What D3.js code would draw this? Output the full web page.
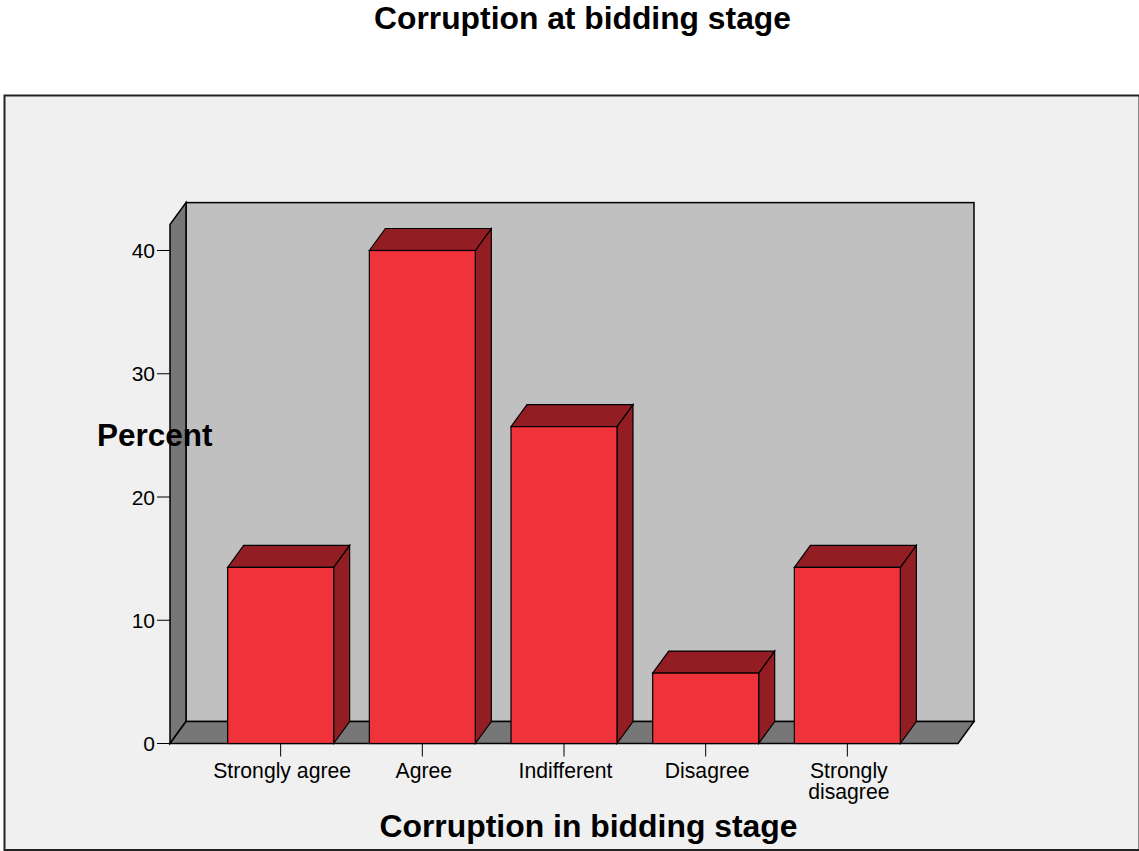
<!DOCTYPE html>
<html>
<head>
<meta charset="utf-8">
<script src="https://cdn.jsdelivr.net/npm/d3@7"></script>
<style>
  body { margin: 0; background: #fff; }
  text { font-family: Arial, 'Liberation Sans', sans-serif; }
</style>
</head>
<body>
<div id="chart"></div>
<script>
const categories = ['Strongly agree', 'Agree', 'Indifferent', 'Disagree', 'Strongly disagree'];
const tickLabels = [['Strongly agree'], ['Agree'], ['Indifferent'], ['Disagree'], ['Strongly', 'disagree']];
const percents = [14.29, 40.0, 25.71, 5.71, 14.29];
const yTicks = [0, 10, 20, 30, 40];

const width = 1139,
  height = 851;

// 3d offsets of the box
const depthX = 16,
  depthY = 22;

const floorY = 743.5;
const left = 170,
  right = 958;

const front = '#f0323a',
  dark = '#921e23',
  wall = '#c0c0c0',
  floor = '#777777';

let svg = d3
  .select('#chart')
  .append('svg')
  .attr('width', width)
  .attr('height', height);

// outer frame
svg
  .append('rect')
  .attr('x', 4.5)
  .attr('y', 95.5)
  .attr('width', width - 4)
  .attr('height', 754.5)
  .attr('fill', '#f0f0f0')
  .attr('stroke', '#222')
  .attr('stroke-width', 2);

svg
  .append('text')
  .attr('x', 582.5)
  .attr('y', 29)
  .attr('text-anchor', 'middle')
  .attr('font-size', '31.8px')
  .attr('font-weight', 'bold')
  .text('Corruption at bidding stage');

let xScale = d3
  .scaleBand()
  .domain(categories)
  .range([left, right])
  .paddingInner(0.252)
  .paddingOuter(0.407);

let yScale = d3.scaleLinear().domain([0, 42.1]).range([floorY, floorY - 42.1 * 12.325]);

const topY = yScale(42.1);

// back wall
svg
  .append('rect')
  .attr('x', left + depthX)
  .attr('y', topY - depthY)
  .attr('width', right - left)
  .attr('height', floorY - topY)
  .attr('fill', wall)
  .attr('stroke', '#000')
  .attr('stroke-width', 1.5);

// left wall
svg
  .append('polygon')
  .attr(
    'points',
    [
      [left, floorY],
      [left, topY],
      [left + depthX, topY - depthY],
      [left + depthX, floorY - depthY],
    ].join(' ')
  )
  .attr('fill', floor)
  .attr('stroke', '#000')
  .attr('stroke-width', 1.5);

// floor
svg
  .append('polygon')
  .attr(
    'points',
    [
      [left, floorY],
      [left + depthX, floorY - depthY],
      [right + depthX, floorY - depthY],
      [right, floorY],
    ].join(' ')
  )
  .attr('fill', floor)
  .attr('stroke', '#000')
  .attr('stroke-width', 1.5);

// y axis ticks
let yAxis = svg.append('g');
yAxis
  .selectAll('line')
  .data(yTicks)
  .join('line')
  .attr('x1', left - 13)
  .attr('x2', left)
  .attr('y1', (d) => yScale(d))
  .attr('y2', (d) => yScale(d))
  .attr('stroke', '#000');
yAxis
  .selectAll('text')
  .data(yTicks)
  .join('text')
  .attr('x', left - 15)
  .attr('y', (d) => yScale(d) + 7.5)
  .attr('text-anchor', 'end')
  .attr('font-size', '21px')
  .text((d) => d);

// bars
let bars = svg
  .append('g')
  .selectAll('g')
  .data(categories)
  .join('g');

bars.each(function (c, i) {
  let g = d3.select(this);
  let x0 = xScale(c),
    x1 = x0 + xScale.bandwidth(),
    yt = yScale(percents[i]);

  g.append('polygon')
    .attr(
      'points',
      [
        [x1, yt],
        [x1 + depthX, yt - depthY],
        [x1 + depthX, floorY - depthY],
        [x1, floorY],
      ].join(' ')
    )
    .attr('fill', dark)
    .attr('stroke', '#000')
    .attr('stroke-width', 1.2);

  g.append('polygon')
    .attr(
      'points',
      [
        [x0, yt],
        [x0 + depthX, yt - depthY],
        [x1 + depthX, yt - depthY],
        [x1, yt],
      ].join(' ')
    )
    .attr('fill', dark)
    .attr('stroke', '#000')
    .attr('stroke-width', 1.2);

  g.append('rect')
    .attr('x', x0)
    .attr('y', yt)
    .attr('width', x1 - x0)
    .attr('height', floorY - yt)
    .attr('fill', front)
    .attr('stroke', '#000')
    .attr('stroke-width', 1.2);
});

// x axis ticks and labels
let xAxis = svg.append('g');
xAxis
  .selectAll('line')
  .data(categories)
  .join('line')
  .attr('x1', (d) => xScale(d) + xScale.bandwidth() / 2)
  .attr('x2', (d) => xScale(d) + xScale.bandwidth() / 2)
  .attr('y1', floorY)
  .attr('y2', floorY + 13)
  .attr('stroke', '#000');

xAxis
  .selectAll('text')
  .data(categories)
  .join('text')
  .attr('text-anchor', 'middle')
  .attr('font-size', '21.2px')
  .each(function (c, i) {
    let t = d3.select(this);
    tickLabels[i].forEach((line, j) => {
      t.append('tspan')
        .attr('x', xScale(c) + xScale.bandwidth() / 2 + 1.5)
        .attr('y', 778 + j * 20.5)
        .text(line);
    });
  });

svg
  .append('text')
  .attr('x', 97)
  .attr('y', 446)
  .attr('font-size', '31.5px')
  .attr('font-weight', 'bold')
  .text('Percent');

svg
  .append('text')
  .attr('x', 588.5)
  .attr('y', 837)
  .attr('text-anchor', 'middle')
  .attr('font-size', '31.9px')
  .attr('font-weight', 'bold')
  .text('Corruption in bidding stage');
</script>
</body>
</html>
